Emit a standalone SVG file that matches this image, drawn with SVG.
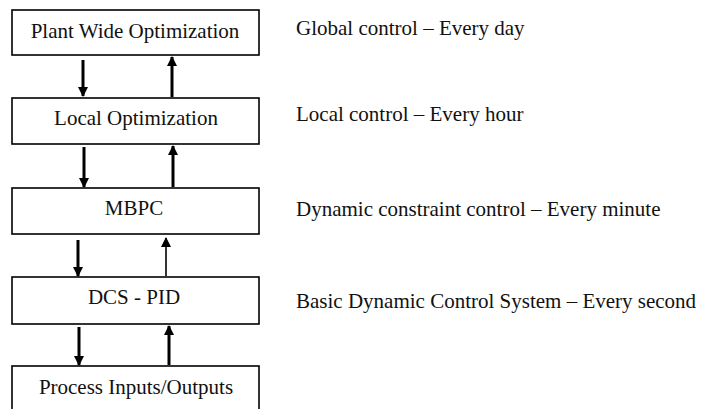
<svg xmlns="http://www.w3.org/2000/svg" width="710" height="409" viewBox="0 0 710 409">
<style>
.box{fill:#fff;stroke:#000;stroke-width:1.6}
.t{font-family:"Liberation Serif",serif;font-size:21px;fill:#111}
.c{text-anchor:middle}
.a{stroke:#000;stroke-width:3;fill:none}
.thin{stroke-width:1.6}
</style>
<defs>
<marker id="h" viewBox="0 0 10 10" refX="9" refY="5" markerWidth="10" markerHeight="10" markerUnits="userSpaceOnUse" orient="auto">
<path d="M0,0 L10,5 L0,10 Z" fill="#000"/>
</marker>
</defs>
<rect width="710" height="409" fill="#fff"/>
<g id="n1"><rect class="box" x="12" y="10" width="247" height="45"/><text class="t c" x="135" y="38">Plant Wide Optimization</text></g>
<g id="n2"><rect class="box" x="12" y="98" width="247" height="46"/><text class="t c" x="136" y="125">Local Optimization</text></g>
<g id="n3"><rect class="box" x="12" y="188" width="247" height="46"/><text class="t c" x="134" y="215">MBPC</text></g>
<g id="n4"><rect class="box" x="12" y="277" width="247" height="47"/><text class="t c" x="134" y="304">DCS - PID</text></g>
<g id="n5"><rect class="box" x="12" y="366" width="247" height="50"/><text class="t c" x="136" y="394">Process Inputs/Outputs</text></g>
<g id="labels">
<text class="t" x="296" y="35">Global control – Every day</text>
<text class="t" x="296" y="121">Local control – Every hour</text>
<text class="t" x="296" y="216">Dynamic constraint control – Every minute</text>
<text class="t" x="296" y="308">Basic Dynamic Control System – Every second</text>
</g>
<g id="connectors">
<line class="a" x1="83" y1="60" x2="83" y2="96" marker-end="url(#h)"/>
<line class="a" x1="172" y1="97" x2="172" y2="57" marker-end="url(#h)"/>
<line class="a" x1="84" y1="147" x2="84" y2="187" marker-end="url(#h)"/>
<line class="a" x1="173" y1="187" x2="173" y2="146" marker-end="url(#h)"/>
<line class="a" x1="78" y1="240" x2="78" y2="276" marker-end="url(#h)"/>
<line class="a thin" x1="166" y1="276" x2="166" y2="238" marker-end="url(#h)"/>
<line class="a" x1="79" y1="327" x2="79" y2="365" marker-end="url(#h)"/>
<line class="a" x1="169" y1="365" x2="169" y2="326" marker-end="url(#h)"/>
</g>
</svg>
